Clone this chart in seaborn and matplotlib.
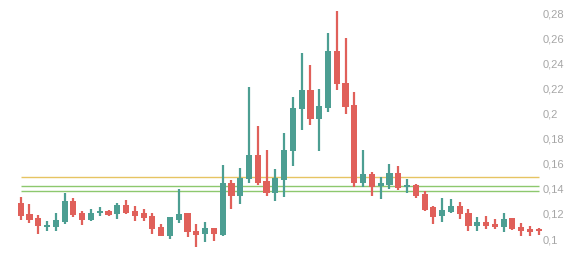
import matplotlib
matplotlib.use("Agg")
import matplotlib.pyplot as plt
import seaborn as sns
import numpy as np
import pandas as pd
from matplotlib.ticker import FuncFormatter

opens = [0.1289, 0.1197, 0.1165, 0.1098, 0.1098, 0.1138, 0.1303, 0.1205, 0.1151, 0.1205,
         0.1225, 0.1197, 0.1273, 0.1223, 0.1205, 0.1183, 0.1098, 0.1024, 0.1154, 0.1205,
         0.1066, 0.1037, 0.1090, 0.1029, 0.1449, 0.1343, 0.1478, 0.1672, 0.1462, 0.1369,
         0.1470, 0.1703, 0.2038, 0.2187, 0.1954, 0.2046, 0.2498, 0.2245, 0.2068, 0.1449,
         0.1520, 0.1425, 0.1430, 0.1526, 0.1414, 0.1430, 0.1359, 0.1253, 0.1186, 0.1218,
         0.1260, 0.1205, 0.1104, 0.1135, 0.1120, 0.1093, 0.1167, 0.1098, 0.1082, 0.1077]
closes = [0.1186, 0.1154, 0.1101, 0.1114, 0.1151, 0.1303, 0.1191, 0.1151, 0.1210, 0.1225,
          0.1194, 0.1271, 0.1207, 0.1186, 0.1170, 0.1082, 0.1026, 0.1173, 0.1199, 0.1053,
          0.1034, 0.1085, 0.1040, 0.1449, 0.1343, 0.1486, 0.1672, 0.1445, 0.1369, 0.1488,
          0.1709, 0.2046, 0.2187, 0.1954, 0.2060, 0.2498, 0.2233, 0.2054, 0.1449, 0.1520,
          0.1417, 0.1444, 0.1523, 0.1409, 0.1430, 0.1343, 0.1231, 0.1178, 0.1231, 0.1265,
          0.1197, 0.1104, 0.1135, 0.1104, 0.1093, 0.1162, 0.1082, 0.1064, 0.1058, 0.1064]
highs = [0.1335, 0.1279, 0.1191, 0.1143, 0.1207, 0.1367, 0.1327, 0.1223, 0.1237, 0.1255,
         0.1231, 0.1287, 0.1311, 0.1263, 0.1239, 0.1210, 0.1120, 0.1178, 0.1398, 0.1205,
         0.1120, 0.1138, 0.1090, 0.1592, 0.1470, 0.1568, 0.2209, 0.1900, 0.1709, 0.1558,
         0.1847, 0.2131, 0.2482, 0.2386, 0.2195, 0.2641, 0.2817, 0.2602, 0.2171, 0.1709,
         0.1534, 0.1496, 0.1598, 0.1582, 0.1476, 0.1438, 0.1382, 0.1265, 0.1327, 0.1319,
         0.1295, 0.1237, 0.1173, 0.1183, 0.1162, 0.1205, 0.1170, 0.1125, 0.1104, 0.1085]
lows = [0.1154, 0.1130, 0.1037, 0.1066, 0.1066, 0.1120, 0.1178, 0.1114, 0.1143, 0.1181,
        0.1181, 0.1162, 0.1202, 0.1146, 0.1141, 0.1037, 0.1022, 0.1000, 0.1125, 0.1018,
        0.0939, 0.0974, 0.0986, 0.1024, 0.1239, 0.1279, 0.1449, 0.1430, 0.1345, 0.1305,
        0.1337, 0.1584, 0.1871, 0.1911, 0.1703, 0.2010, 0.2185, 0.1994, 0.1417, 0.1412,
        0.1345, 0.1316, 0.1396, 0.1390, 0.1364, 0.1324, 0.1223, 0.1117, 0.1133, 0.1205,
        0.1162, 0.1064, 0.1066, 0.1077, 0.1077, 0.1053, 0.1072, 0.1026, 0.1022, 0.1032]
level_values = [0.1496, 0.1420, 0.1382]
level_colors = ["#E6C462", "#8DC86E", "#8DC86E"]
ytick_values = [0.10, 0.12, 0.14, 0.16, 0.18, 0.20, 0.22, 0.24, 0.26, 0.28]

df = pd.DataFrame({"open": opens, "high": highs, "low": lows, "close": closes})
df["idx"] = np.arange(len(df))
df["up"] = df["close"] >= df["open"]

UP = "#4C9E92"
DOWN = "#E0605A"

sns.set_theme(style="white")
plt.rcParams["font.family"] = ["Liberation Sans", "DejaVu Sans"]
fig = plt.figure(figsize=(5.84, 2.58), dpi=100)
ax = fig.add_axes([0, 0, 541 / 584, 1])

colors = [UP if u else DOWN for u in df["up"]]
ax.vlines(df["idx"], df["low"], df["high"], colors=colors, linewidth=1.6, zorder=3, clip_on=False)
bottoms = np.minimum(df["open"], df["close"])
heights = np.abs(df["close"] - df["open"])
heights = np.maximum(heights, 0.0012)
ax.bar(df["idx"], heights, bottom=bottoms, width=0.7, color=colors, linewidth=0, zorder=4, clip_on=False)

for v, c in zip(level_values, level_colors):
    ax.hlines(v, 0, len(df) - 1, colors=c, linewidth=1.0, zorder=2)

ax.set_xlim(-2.36, 59.26)
ax.set_ylim(0.0849, 0.2904)
ax.set_xticks([])
ax.yaxis.tick_right()
ax.set_yticks(ytick_values)
ax.yaxis.set_major_formatter(FuncFormatter(lambda v, p: ("%g" % round(v, 2)).replace(".", ",")))
ax.tick_params(axis="y", length=0, pad=1, labelsize=8, labelcolor="#A6A6A6")
for lbl in ax.get_yticklabels():
    lbl.set_horizontalalignment("left")
for s in ax.spines.values():
    s.set_visible(False)
ax.patch.set_alpha(0)

fig.savefig("out.png", dpi=100)
